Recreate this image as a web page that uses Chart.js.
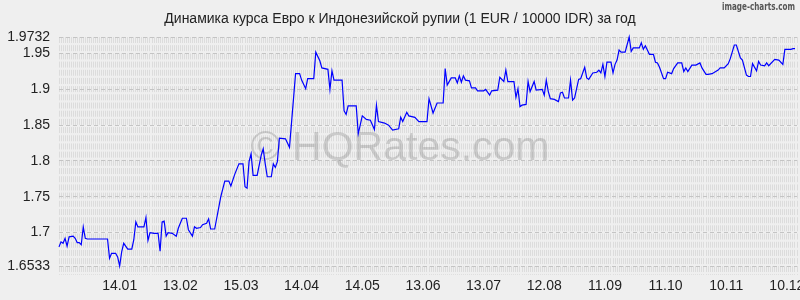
<!DOCTYPE html>
<html>
<head>
<meta charset="utf-8">
<script src="https://cdn.jsdelivr.net/npm/chart.js@4.4.1/dist/chart.umd.min.js"></script>
<style>
body{margin:0;background:#efefef;}
#wrap{width:800px;height:300px;}
</style>
</head>
<body>
<div id="wrap"><canvas id="rateChart" width="800" height="300"></canvas></div>
<script>

/* data: day index from 15.12 of previous year, rate */
const days = [
0,1,2,3,4,5,7,8,9,10,
11,12,13,14,24,25,26,28,29,30,
31,32,34,36,37,38,39,42,43,44,
45,47,49,50,51,52,53,54,56,58,
59,61,63,64,66,67,68,70,71,73,
74,75,77,80,82,84,85,87,89,91,
92,93,94,95,96,98,100,101,102,103,
105,106,107,108,109,112,113,114,117,119,
120,122,123,126,127,129,130,133,134,135,
136,140,141,142,143,147,148,150,152,154,
156,157,158,161,163,165,168,169,170,172,
173,176,178,182,183,185,187,190,191,192,
194,196,197,198,199,200,201,203,204,206,
207,210,211,213,214,217,218,220,221,222,
225,226,227,228,229,231,232,233,235,236,
239,240,241,242,243,245,247,248,249,250,
252,253,254,255,257,258,260,261,262,264,
266,267,268,269,270,271,273,274,275,276,
277,278,280,282,283,284,287,288,289,290,
292,294,295,296,297,299,300,301,303,304,
306,308,309,310,311,313,315,317,318,320,
321,323,326,327,329,331,332,334,335,337,
338,340,341,342,343,345,346,347,349,350,
351,354,356,358,359,362,363,364
];

const rates = [
1.680,1.687,1.685,1.692,1.681,1.694,1.695,1.692,1.686,1.686,
1.683,1.708,1.692,1.691,1.691,1.664,1.671,1.671,1.666,1.6533,
1.673,1.685,1.677,1.677,1.690,1.715,1.708,1.708,1.721,1.689,
1.700,1.699,1.699,1.674,1.715,1.716,1.695,1.700,1.699,1.695,
1.706,1.720,1.720,1.704,1.695,1.708,1.706,1.707,1.711,1.713,
1.719,1.705,1.705,1.750,1.772,1.772,1.765,1.782,1.796,1.796,
1.764,1.762,1.799,1.810,1.780,1.780,1.808,1.817,1.796,1.778,
1.778,1.796,1.791,1.799,1.832,1.831,1.825,1.819,1.922,1.922,
1.913,1.901,1.915,1.915,1.952,1.940,1.930,1.928,1.900,1.926,
1.913,1.913,1.870,1.865,1.877,1.877,1.838,1.863,1.858,1.857,
1.844,1.878,1.855,1.853,1.850,1.843,1.845,1.861,1.855,1.868,
1.863,1.861,1.855,1.855,1.887,1.867,1.881,1.881,1.929,1.906,
1.916,1.916,1.909,1.919,1.910,1.919,1.913,1.912,1.902,1.902,
1.898,1.898,1.900,1.892,1.898,1.899,1.917,1.911,1.927,1.911,
1.911,1.889,1.901,1.876,1.878,1.879,1.911,1.897,1.911,1.899,
1.900,1.892,1.913,1.897,1.887,1.886,1.883,1.895,1.896,1.888,
1.888,1.913,1.885,1.888,1.914,1.915,1.931,1.916,1.914,1.923,
1.924,1.927,1.923,1.935,1.918,1.938,1.938,1.923,1.935,1.941,
1.955,1.952,1.952,1.9732,1.953,1.958,1.958,1.965,1.956,1.961,
1.949,1.949,1.938,1.937,1.931,1.915,1.915,1.924,1.922,1.929,
1.937,1.937,1.925,1.930,1.925,1.934,1.934,1.937,1.930,1.921,
1.921,1.922,1.927,1.930,1.930,1.936,1.943,1.962,1.962,1.944,
1.941,1.920,1.918,1.918,1.936,1.926,1.939,1.934,1.933,1.937,
1.933,1.942,1.941,1.935,1.956,1.956,1.957,1.957
];

/* ticks */
const yTicks = [1.6533,1.7,1.75,1.8,1.85,1.9,1.95,1.9732];
const xTickDays = [30,60,90,120,150,180,210,240,270,300,330,360];
const xTickLabels = ["14.01","13.02","15.03","14.04","14.05","13.06","13.07","12.08","11.09","11.10","10.11","10.12"];

const titleText = "Динамика курса Евро к Индонезийской рупии (1 EUR / 10000 IDR) за год";

const points = days.map((d,i)=>({x:d,y:rates[i]}));

/* watermark + site label */
const extras = {
id:"extras",
beforeDatasetsDraw(chart){
const ctx = chart.ctx;
ctx.save();
ctx.font = "41px 'Liberation Sans', Arial, sans-serif";
ctx.fillStyle = "rgba(120,120,120,0.3)";
ctx.textAlign = "center";
ctx.textBaseline = "alphabetic";
ctx.fillText("© HQRates.com",400,160);
ctx.restore();
},
afterDraw(chart){
const ctx = chart.ctx;
ctx.save();
ctx.font = "bold 11px 'DejaVu Sans', sans-serif";
ctx.fillStyle = "#555";
ctx.textBaseline = "middle";
const w = ctx.measureText("image-charts.com").width;
ctx.translate(722,7);
ctx.scale(73/w,1);
ctx.fillText("image-charts.com",0,0);
ctx.restore();
}
};

new Chart(document.getElementById("rateChart"),{
type:"line",
data:{
datasets:[{
data:points,
borderColor:"#0000ff",
borderWidth:1.2,
pointRadius:0,
tension:0,
clip:3
}]
},
options:{
responsive:false,
animation:false,
devicePixelRatio:1,
layout:{padding:0},
plugins:{
legend:{display:false},
tooltip:{enabled:false},
title:{
display:true,
text:titleText,
color:"#222",
font:{family:"'Liberation Sans', Arial, sans-serif",size:14,weight:"normal"},
padding:{top:11,bottom:9.2}
}
},
scales:{
x:{
type:"linear",
min:0,
max:365,
afterBuildTicks:(scale)=>{
const t = [];
for(let d=0;d<=365;d++) t.push({value:d});
scale.ticks = t;
},
afterFit:(scale)=>{scale.height = 34;},
ticks:{
autoSkip:false,
maxRotation:0,
padding:3,
color:"#222",
font:{family:"'Liberation Sans', Arial, sans-serif",size:14},
callback:(v)=>{
const i = xTickDays.indexOf(v);
return i>=0 ? xTickLabels[i] : "";
}
},
grid:{
color:"#dcdcdc",
lineWidth:1,
tickLength:9,
tickColor:"#dcdcdc",
tickBorderDash:[6,2.19]
},
border:{display:false,dash:[6,2.19]}
},
y:{
type:"linear",
min:1.6533,
max:1.9732,
afterBuildTicks:(scale)=>{
scale.ticks = yTicks.map(v=>({value:v}));
},
afterFit:(scale)=>{scale.width = 59;},
ticks:{
padding:9,
color:"#222",
font:{family:"'Liberation Sans', Arial, sans-serif",size:14},
callback:(v)=>String(v)
},
grid:{
color:"#c4c4c4",
lineWidth:1,
drawTicks:false
},
border:{display:false,dash:[4,3]}
}
}
},
plugins:[extras]
});

</script>
</body>
</html>
